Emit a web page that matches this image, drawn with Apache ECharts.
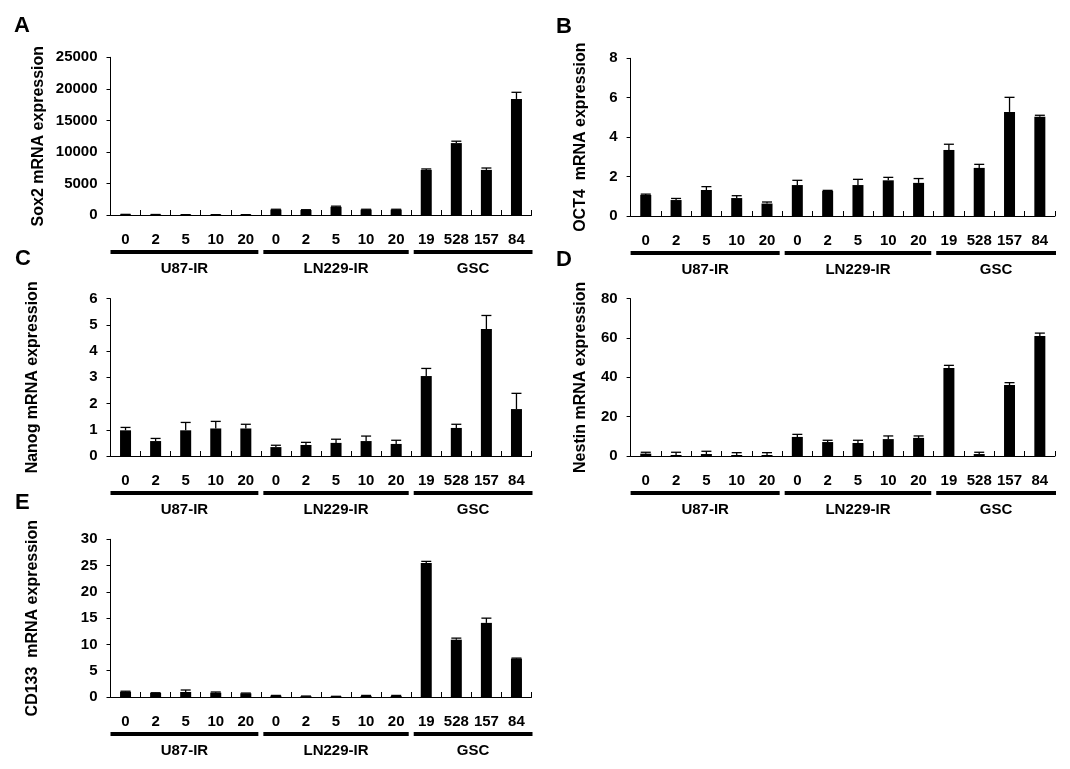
<!DOCTYPE html>
<html><head><meta charset="utf-8">
<script src="https://cdn.jsdelivr.net/npm/echarts@6/dist/echarts.min.js"></script>
<style>html,body{margin:0;padding:0;background:#fff}#c{width:1070px;height:769px}</style>
</head><body><div id="c"></div>
<script>
// ---- data ----
const categories = ['0','2','5','10','20','0','2','5','10','20','19','528','157','84'];
const groups = ['U87-IR','LN229-IR','GSC'];
const groupStart = [0,5,10];
const groupEnd = [4,9,13];

const sox2Mean = [80,60,50,50,50, 850,800,1300,850,850, 7150,11400,7150,18400];
const sox2Err  = [20,20,10,10,10, 60,40,100,60,60, 150,300,300,1050];

const oct4Mean = [1.07,0.81,1.32,0.91,0.63, 1.57,1.27,1.57,1.81,1.68, 3.35,2.44,5.28,5.03];
const oct4Err  = [0.04,0.08,0.17,0.12,0.08, 0.24,0.03,0.29,0.15,0.22, 0.29,0.18,0.74,0.08];

const nanogMean = [0.98,0.57,0.98,1.05,1.05, 0.34,0.42,0.50,0.57,0.46, 3.05,1.07,4.84,1.79];
const nanogErr  = [0.11,0.10,0.30,0.27,0.16, 0.07,0.10,0.14,0.19,0.14, 0.29,0.14,0.52,0.60];

const nestinMean = [1.2,0.5,1.0,0.5,0.5, 9.7,7.1,6.6,8.6,9.2, 44.7,1.0,36.1,61.0];
const nestinErr  = [0.7,1.4,1.4,1.2,1.2, 1.3,0.9,1.4,1.6,1.0, 1.4,0.9,1.2,1.5];

const cd133Mean = [1.0,0.76,0.95,0.82,0.70, 0.25,0.15,0.10,0.20,0.20, 25.5,10.9,14.1,7.3];
const cd133Err  = [0.10,0.05,0.38,0.13,0.05, 0.05,0.03,0.03,0.10,0.10, 0.3,0.3,0.9,0.1];

const FONT = '"Liberation Sans", Arial, sans-serif';

const panels = [
  {letter:'A', title:'Sox2 mRNA expression',  mean:sox2Mean,  err:sox2Err,  max:25000, interval:5000, left:110.5, top:57.3,  width:421,   height:157.7, gap:63.5, lx:14,  ly:24},
  {letter:'B', title:'OCT4  mRNA expression', mean:oct4Mean,  err:oct4Err,  max:8,     interval:2,    left:630.6, top:58.3,  width:424.4, height:157.7, gap:42,   lx:556, ly:25},
  {letter:'C', title:'Nanog mRNA expression', mean:nanogMean, err:nanogErr, max:6,     interval:1,    left:110.5, top:298.7, width:421,   height:157.3, gap:69.5, lx:15,  ly:257.5},
  {letter:'D', title:'Nestin mRNA expression',mean:nestinMean,err:nestinErr,max:80,    interval:20,   left:630.6, top:298.7, width:424.4, height:157.3, gap:42,   lx:556, ly:258},
  {letter:'E', title:'CD133  mRNA expression',mean:cd133Mean, err:cd133Err, max:30,    interval:5,    left:110.5, top:539.3, width:421,   height:157.7, gap:69.5, lx:15,  ly:501.5}
];

function errRender(params, api){
  const x = api.value(0), m = api.value(1), e = api.value(2);
  const p0 = api.coord([x, m]);
  const p1 = api.coord([x, m + e]);
  const cw = 10;
  return {type:'group', children:[
    {type:'line', shape:{x1:p0[0], y1:p0[1], x2:p1[0], y2:p1[1]}, style:{stroke:'#000', lineWidth:1.3}},
    {type:'line', shape:{x1:p1[0]-cw/2, y1:p1[1], x2:p1[0]+cw/2, y2:p1[1]}, style:{stroke:'#000', lineWidth:1.3}}
  ]};
}

function groupRender(params, api){
  const s = api.value(0), e = api.value(2), idx = params.dataIndex;
  const bw = api.size([1,0])[0];
  const a = api.coord([s,0]);
  const b = api.coord([e,0]);
  const x1 = a[0] - bw/2 + (idx === 0 ? 0 : 2.5);
  const x2 = b[0] + bw/2 - (idx === groups.length-1 ? -1 : 2.5);
  const y0 = a[1];
  return {type:'group', children:[
    {type:'rect', shape:{x:x1, y:y0+35, width:x2-x1, height:4}, style:{fill:'#000'}},
    {type:'text', x:(x1+x2)/2, y:y0+54, style:{text:groups[idx], fontSize:15, fontWeight:'bold', fontFamily:FONT, fill:'#000', align:'center', verticalAlign:'middle'}}
  ]};
}

const option = {
  animation:false,
  backgroundColor:'#fff',
  grid:[], xAxis:[], yAxis:[], series:[], graphic:[]
};

panels.forEach((p, i) => {
  option.grid.push({left:p.left, top:p.top, width:p.width, height:p.height, containLabel:false});
  option.xAxis.push({
    type:'category', gridIndex:i, data:categories,
    axisLine:{show:true, lineStyle:{color:'#000', width:1}},
    axisTick:{show:true, inside:true, length:5, lineStyle:{color:'#000', width:1}, interval:0},
    axisLabel:{interval:0, margin:17, color:'#000', fontSize:15, fontWeight:'bold', fontFamily:FONT},
    splitLine:{show:false}
  });
  option.yAxis.push({
    type:'value', gridIndex:i, min:0, max:p.max, interval:p.interval,
    name:p.title, nameLocation:'middle', nameGap:p.gap, nameRotate:90,
    nameTextStyle:{color:'#000', fontSize:16, fontWeight:'bold', fontFamily:FONT},
    axisLine:{show:true, lineStyle:{color:'#000', width:1}},
    axisTick:{show:true, inside:false, length:4, lineStyle:{color:'#000', width:1}},
    axisLabel:{margin:13, color:'#000', fontSize:15, fontWeight:'bold', fontFamily:FONT, formatter:(v) => String(v)},
    splitLine:{show:false}
  });
  option.series.push({
    type:'bar', xAxisIndex:i, yAxisIndex:i, data:p.mean, barWidth:11,
    itemStyle:{color:'#000'}, silent:true
  });
  option.series.push({
    type:'custom', xAxisIndex:i, yAxisIndex:i, renderItem:errRender, silent:true,
    encode:{x:0, y:1}, z:3,
    data:p.mean.map((m, k) => [k, m, p.err[k]])
  });
  option.series.push({
    type:'custom', xAxisIndex:i, yAxisIndex:i, renderItem:groupRender, silent:true, clip:false,
    encode:{x:0, y:1},
    data:groups.map((g, k) => [groupStart[k], 0, groupEnd[k]])
  });
  option.graphic.push({
    type:'text', left:p.lx, top:p.ly - 9.5,
    style:{text:p.letter, fontSize:22, fontWeight:'bold', fontFamily:FONT, fill:'#000'}
  });
});

const chart = echarts.init(document.getElementById('c'), null, {renderer:'canvas'});
chart.setOption(option);
</script>
</body></html>
